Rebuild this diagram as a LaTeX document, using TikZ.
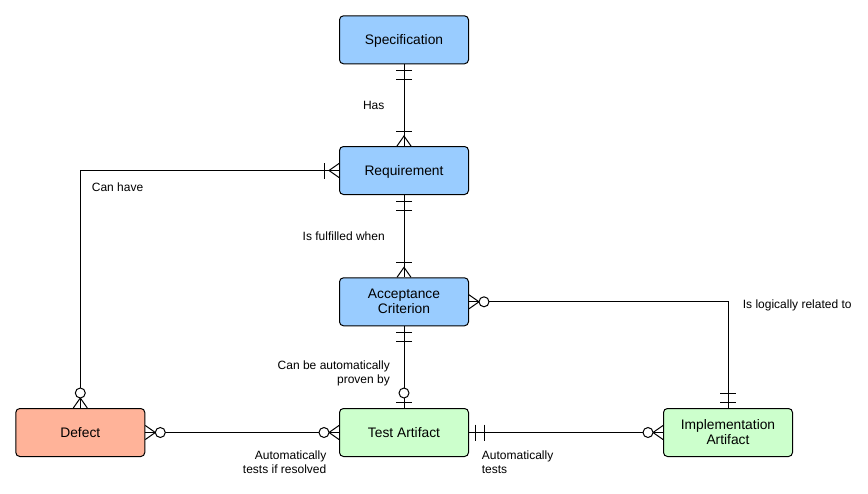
\documentclass[tikz,border=0pt]{standalone}
\usepackage{fontspec}
\setmainfont{Liberation Sans}
\definecolor{blu}{HTML}{99CCFF}
\definecolor{org}{HTML}{FFB399}
\definecolor{grn}{HTML}{CCFFCC}
\newcommand\erm[3]{\begin{scope}[shift={(#1)},rotate=#2,line width=1pt]#3\end{scope}}
\newcommand\ebar[1]{\draw (#1,-8) -- (#1,8);}
\newcommand\ecrow{\draw (0,-7) -- (10,0) -- (0,7);}
\newcommand\ecirc{\draw[fill=white] (15,0) circle[radius=5pt];}
\begin{document}
\begin{tikzpicture}[x=1pt,y=-1pt,
  ent/.style={draw=black, line width=1pt, rounded corners=4pt, minimum width=129pt, minimum height=48pt, inner sep=0pt, font=\fontsize{13.8}{15}\selectfont},
  one/.style={text height=9.9pt,text depth=0pt},
  two/.style={align=center},
  lbl/.style={inner sep=0pt, font=\fontsize{12}{14}\selectfont},
  conn/.style={draw=black, line width=1pt}]
\useasboundingbox (0,0) rectangle (868,493);
\node[ent,one,fill=blu] (spec) at (404,39.8) {Specification};
\node[ent,one,fill=blu] (req) at (404,170.5) {Requirement};
\node[ent,two,fill=blu] (acc) at (404,301.8) {Acceptance\\Criterion};
\node[ent,one,fill=org] (def) at (80.3,432.5) {Defect};
\node[ent,one,fill=grn] (test) at (404,432.5) {Test Artifact};
\node[ent,two,fill=grn] (impl) at (728,432.5) {Implementation\\Artifact};

\draw[conn] (spec.south) -- (req.north);
\draw[conn] (req.west) -| (def.north);
\draw[conn] (req.south) -- (acc.north);
\draw[conn] (acc.east) -| (impl.north);
\draw[conn] (acc.south) -- (test.north);
\draw[conn] (def.east) -- (test.west);
\draw[conn] (test.east) -- (impl.west);

\erm{spec.south}{-90}{\ebar{6}\ebar{15}}
\erm{req.north}{90}{\ebar{15}\ecrow}
\erm{req.west}{180}{\ebar{15}\ecrow}
\erm{def.north}{90}{\ecrow\ecirc}
\erm{req.south}{-90}{\ebar{6}\ebar{15}}
\erm{acc.north}{90}{\ebar{15}\ecrow}
\erm{acc.east}{0}{\ecrow\ecirc}
\erm{impl.north}{90}{\ebar{6}\ebar{15}}
\erm{acc.south}{-90}{\ebar{6}\ebar{15}}
\erm{test.north}{90}{\ebar{6}\ecirc}
\erm{def.east}{0}{\ecrow\ecirc}
\erm{test.west}{180}{\ecrow\ecirc}
\erm{test.east}{0}{\ebar{6}\ebar{15}}
\erm{impl.west}{180}{\ecrow\ecirc}

\node[lbl,anchor=base] (lhas) at (373.7,109) {Has};
\node[lbl,anchor=base west] (lcan) at (91.7,191.7) {Can have};
\node[lbl,anchor=base] (lful) at (343.7,240.5) {Is fulfilled when};
\node[lbl,anchor=base west] (llog) at (742.7,308.5) {Is logically related to};
\node[lbl,align=right,anchor=north east] (lprov) at (390,360.3) {Can be automatically\\proven by};
\node[lbl,align=right,anchor=north east] (lres) at (326.5,450.9) {Automatically\\tests if resolved};
\node[lbl,align=left,anchor=north west] (ltest) at (481.7,450.9) {Automatically\\tests};
\end{tikzpicture}
\end{document}
